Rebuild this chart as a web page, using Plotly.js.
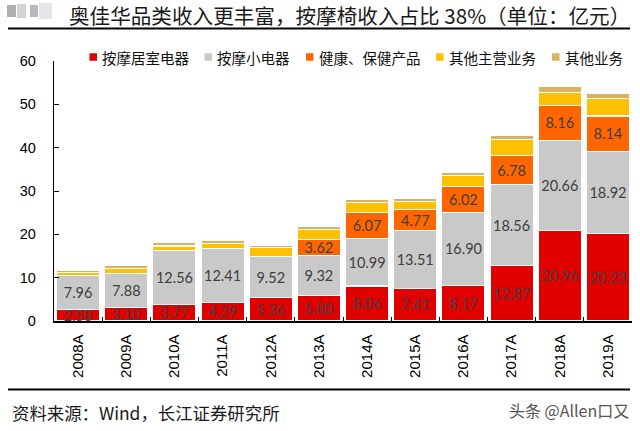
<!DOCTYPE html>
<html>
<head>
<meta charset="utf-8">
<script src="https://cdn.plot.ly/plotly-3.0.1.min.js"></script>
<style>html,body{margin:0;padding:0;background:#fff;}#chart{width:640px;height:431px;}</style>
</head>
<body>
<div id="chart"></div>
<script>
const categories = ['2008A','2009A','2010A','2011A','2012A','2013A','2014A','2015A','2016A','2017A','2018A','2019A'];
const seriesNames = ['按摩居室电器','按摩小电器','健康、保健产品','其他主营业务','其他业务'];
const massageHome = [2.58,3.10,3.77,4.29,5.36,5.80,8.06,7.41,8.17,12.87,20.96,20.23];
const massageSmall = [7.96,7.88,12.56,12.41,9.52,9.32,10.99,13.51,16.90,18.56,20.66,18.92];
const healthCare = [null,null,null,null,null,3.62,6.07,4.77,6.02,6.78,8.16,8.14];
const otherMain = [0.7,1.2,1.0,1.2,2.0,2.3,2.3,1.9,2.5,3.7,2.9,4.0];
const otherBiz = [0.45,0.6,0.8,0.8,0.6,0.9,0.65,0.65,0.8,0.9,1.5,1.2];
const titleText = '奥佳华品类收入更丰富，按摩椅收入占比 38%（单位：亿元）';
const sourceText = '资料来源：Wind，长江证券研究所';
const watermark = '头条 @Allen口又';

const colors = ['#E00000','#C9C9C9','#FF6600','#FFC000','#D9B064'];
const values = [massageHome, massageSmall, healthCare, otherMain, otherBiz];
const labeled = [true, true, true, false, false];

const traces = values.map((v, i) => {
  const t = {
    type: 'bar',
    name: seriesNames[i],
    x: categories,
    y: v,
    marker: {color: colors[i], line: {color: '#FFFFFF', width: 1.2}},
    hoverinfo: 'x+y+name',
    showlegend: false
  };
  if (labeled[i]) {
    t.texttemplate = '%{y:.2f}';
    t.textposition = 'inside';
    t.insidetextanchor = 'middle';
    t.textangle = 0;
    t.textfont = {family: 'Lato, sans-serif', size: 14.5, color: '#404040'};
  } else {
    t.textposition = 'none';
  }
  return t;
});

// pixel -> paper helpers (plot area: x 54..632, y 61..321)
const L = 54, R = 632, T = 61, B = 321;
const px = x => (x - L) / (R - L);
const py = y => (B - y) / (B - T);

const shapes = [
  {type: 'line', xref: 'paper', yref: 'paper', x0: px(8), x1: px(630), y0: py(28.5), y1: py(28.5), line: {color: '#000', width: 2}},
  {type: 'line', xref: 'paper', yref: 'paper', x0: px(8), x1: px(630), y0: py(389.5), y1: py(389.5), line: {color: '#000', width: 2}},
  {type: 'rect', xref: 'paper', yref: 'paper', x0: px(7), x1: px(16), y0: py(5), y1: py(17), fillcolor: '#8E8E8E', line: {width: 0}, opacity: 0.7},
  {type: 'rect', xref: 'paper', yref: 'paper', x0: px(17), x1: px(26), y0: py(4), y1: py(18), fillcolor: '#B8B8B8', line: {width: 0}, opacity: 0.6},
  {type: 'rect', xref: 'paper', yref: 'paper', x0: px(30), x1: px(38), y0: py(5), y1: py(17), fillcolor: '#9A9A9A', line: {width: 0}, opacity: 0.7},
  {type: 'rect', xref: 'paper', yref: 'paper', x0: px(39), x1: px(52), y0: py(3), y1: py(19), fillcolor: '#D0D6DE', line: {width: 0}, opacity: 0.6}
];

const annotations = [
  {text: titleText, xref: 'paper', yref: 'paper', x: px(67), y: py(15.5), xanchor: 'left', yanchor: 'middle', showarrow: false,
   font: {family: 'Noto Sans CJK SC, sans-serif', size: 20.6, color: '#1A1A1A'}},
  {text: sourceText, xref: 'paper', yref: 'paper', x: px(10), y: py(412), xanchor: 'left', yanchor: 'middle', showarrow: false,
   font: {family: 'Noto Sans CJK SC, sans-serif', size: 17.4, color: '#1A1A1A'}},
  {text: watermark, xref: 'paper', yref: 'paper', x: px(631), y: py(410), xanchor: 'right', yanchor: 'middle', showarrow: false,
   font: {family: 'Noto Sans CJK SC, sans-serif', size: 16, color: '#555'}}
];

// legend (manual, one row as in the reference)
const legendX = [89.5, 204.5, 306, 436, 552];
const legendY = 57;
seriesNames.forEach((n, i) => {
  const x0 = legendX[i];
  shapes.push({type: 'rect', xref: 'paper', yref: 'paper', x0: px(x0), x1: px(x0 + 7.5), y0: py(legendY - 3.75), y1: py(legendY + 3.75),
               fillcolor: colors[i], line: {width: 0}});
  annotations.push({text: n, xref: 'paper', yref: 'paper', x: px(x0 + 10.5), y: py(legendY), xanchor: 'left', yanchor: 'middle',
                    showarrow: false, font: {family: 'Noto Sans CJK SC, sans-serif', size: 14.5, color: '#111'}});
});

const layout = {
  width: 640, height: 431,
  margin: {l: L, r: 640 - R, t: T, b: 431 - B, pad: 0},
  paper_bgcolor: '#FFFFFF', plot_bgcolor: '#FFFFFF',
  barmode: 'stack', bargap: 0.1,
  uniformtext: {mode: 'show', minsize: 14.5},
  showlegend: false,
  xaxis: {type: 'category', showline: true, linecolor: '#000', linewidth: 1.5, ticks: 'inside', tickson: 'boundaries', ticklen: 4,
          tickcolor: '#000', tickangle: -90, tickfont: {family: 'Arial, Liberation Sans, sans-serif', size: 15, color: '#000'},
          ticklabelstandoff: 6, showgrid: false, zeroline: false},
  yaxis: {range: [0, 60], dtick: 10, tick0: 0, showline: true, linecolor: '#000', linewidth: 1.2, ticks: 'inside', ticklen: 5,
          tickcolor: '#000', tickfont: {family: 'Arial, Liberation Sans, sans-serif', size: 14.5, color: '#000'},
          ticklabelstandoff: 14, showgrid: false, zeroline: false},
  shapes: shapes,
  annotations: annotations
};

Plotly.newPlot('chart', traces, layout, {displayModeBar: false, staticPlot: true});
</script>
</body>
</html>
